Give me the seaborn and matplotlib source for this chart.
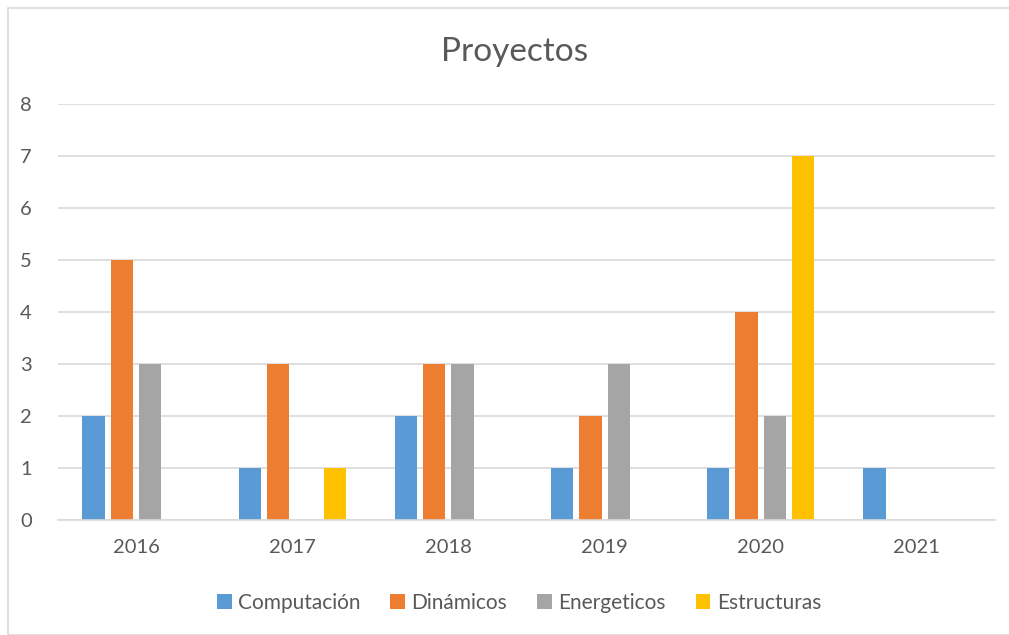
import matplotlib
matplotlib.use("Agg")
import matplotlib.pyplot as plt
import seaborn as sns
import pandas as pd
from matplotlib.patches import Rectangle

years = ["2016", "2017", "2018", "2019", "2020", "2021"]
series = ["Computación", "Dinámicos", "Energeticos", "Estructuras"]
computacion = [2, 1, 2, 1, 1, 1]
dinamicos = [5, 3, 3, 2, 4, 0]
energeticos = [3, 0, 3, 3, 2, 0]
estructuras = [0, 1, 0, 0, 7, 0]
colors = ["#5B9BD5", "#ED7D31", "#A5A5A5", "#FFC000"]

rows = []
for s, vals in zip(series, [computacion, dinamicos, energeticos, estructuras]):
    for y, v in zip(years, vals):
        rows.append({"Año": y, "Serie": s, "Valor": v})
df = pd.DataFrame(rows)

sns.set_theme(style="white")
plt.rcParams["font.family"] = ["Lato", "DejaVu Sans"]

W, H = 1009, 635
fig = plt.figure(figsize=(W / 100, H / 100), dpi=100)
ax = fig.add_axes([58 / W, (H - 520) / H, (995 - 58) / W, (520 - 104) / H])

sns.barplot(data=df, x="Año", y="Valor", hue="Serie", hue_order=series,
            order=years, palette=colors, saturation=1, width=0.725, gap=0.21,
            linewidth=0, ax=ax, legend=True)

ax.set_ylim(0, 8)
ax.set_yticks(range(0, 9))
ax.set_xlim(-0.5, len(years) - 0.5)
ax.grid(axis="y", color="#D9D9D9", linewidth=1.2)
ax.set_axisbelow(True)
for sp in ["top", "right", "left"]:
    ax.spines[sp].set_visible(False)
ax.spines["bottom"].set_color("#D9D9D9")
ax.spines["bottom"].set_linewidth(1.2)
ax.set_xlabel("")
ax.set_ylabel("")
ax.tick_params(axis="both", length=0, labelsize=14.5, labelcolor="#595959")
ax.tick_params(axis="y", pad=23)
ax.tick_params(axis="x", pad=14)
for lbl in ax.get_yticklabels():
    lbl.set_horizontalalignment("center")

fig.text(515 / W, 1 - 52 / H, "Proyectos", ha="center", va="center",
         fontsize=24, color="#595959")

handles, labels = ax.get_legend_handles_labels()
ax.get_legend().remove()
fig.legend(handles, labels, loc="center", bbox_to_anchor=(519 / W, 1 - 603 / H),
           ncol=4, frameon=False, fontsize=15, labelcolor="#595959",
           handlelength=0.7, handleheight=0.7, handletextpad=0.3,
           columnspacing=1.45)

fig.patches.append(Rectangle((8 / W, 0), 1 - 8 / W + 0.01, 1 - 8 / H,
                             transform=fig.transFigure, fill=False,
                             edgecolor="#D9D9D9", linewidth=1.2))

fig.savefig("out.png", dpi=100, facecolor="white")
